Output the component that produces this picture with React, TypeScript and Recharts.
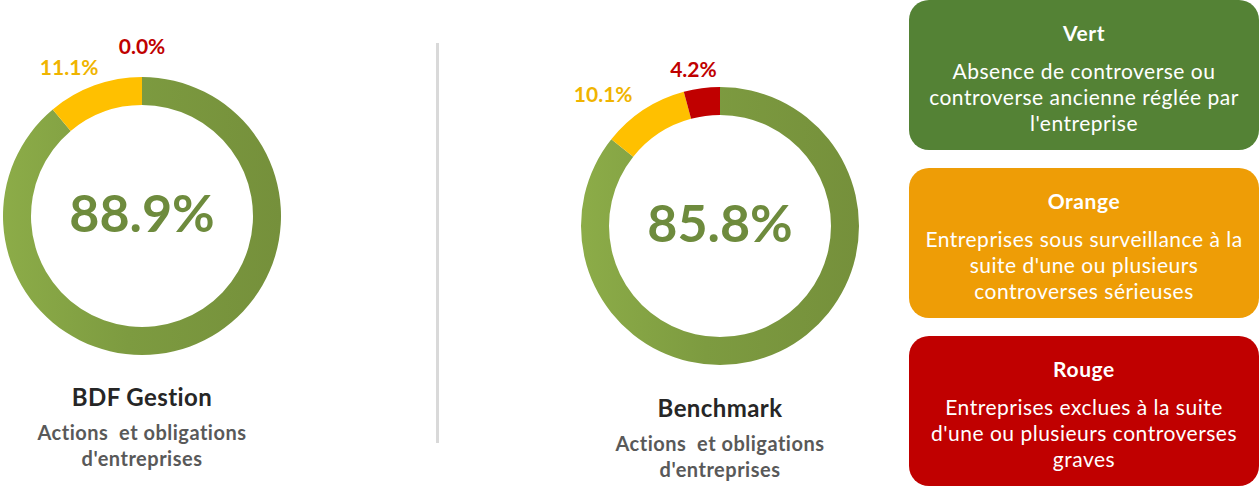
import React from "react";
import { PieChart, Pie, Cell } from "recharts";

const categories = ["Vert", "Orange", "Rouge"];
const bdfValues = [88.9, 11.1, 0.0];
const benchValues = [85.8, 10.1, 4.2];
const panelTitles = ["BDF Gestion", "Benchmark"];
const panelSubtitles = ["Actions\u00a0 et obligations", "d'entreprises"];
const legendTexts = [
  ["Absence de controverse ou", "controverse ancienne réglée par", "l'entreprise"],
  ["Entreprises sous surveillance à la", "suite d'une ou plusieurs", "controverses sérieuses"],
  ["Entreprises exclues à la suite", "d'une ou plusieurs controverses", "graves"],
];

const FONT = "Lato, 'Open Sans', sans-serif";
const sliceColors = ["url(#greenGrad)", "#FFC000", "#C00000"];
const labelColors = ["#77933C", "#F0B400", "#C00000"];
const boxColors = ["#548235", "#EE9D06", "#C00000"];

const RADIAN = Math.PI / 180;

// outside-end label, pushed sideways by roughly its own width (Excel style)
function SliceLabel(props: any) {
  const { cx, cy, midAngle, outerRadius, value, index } = props;
  if (index === 0) return null;
  const text = `${Number(value).toFixed(1)}%`;
  const cos = Math.cos(-midAngle * RADIAN);
  const sin = Math.sin(-midAngle * RADIAN);
  const r = outerRadius + 20;
  const w = text.length * 12 * 0.9;
  const x = cx + (r + w) * cos;
  const y = cy + r * sin - (value === 0 ? 12 : 0);
  return (
    <text
      x={x}
      y={y}
      textAnchor="middle"
      dominantBaseline="central"
      fill={labelColors[index]}
      style={{ fontSize: 21, fontWeight: 700, fontFamily: FONT }}
    >
      {text}
    </text>
  );
}

const toData = (vals: number[]) => categories.map((name, i) => ({ name, value: vals[i] }));

const panels = [
  { values: bdfValues, cx: 142, cy: 216, titleY: 397 },
  { values: benchValues, cx: 720, cy: 226, titleY: 408 },
];

export default function App() {
  return (
    <div
      style={{
        position: "absolute",
        left: 0,
        top: 0,
        width: 1260,
        height: 486,
        background: "#fff",
        fontFamily: FONT,
        overflow: "hidden",
      }}
    >
      <PieChart
        width={900}
        height={486}
        margin={{ top: 0, right: 0, bottom: 0, left: 0 }}
        style={{ position: "absolute", left: 0, top: 0 }}
      >
        <defs>
          <linearGradient id="greenGrad" x1="0" y1="0" x2="1" y2="0">
            <stop offset="0%" stopColor="#8CAC48" />
            <stop offset="45%" stopColor="#7D9B40" />
            <stop offset="100%" stopColor="#75903B" />
          </linearGradient>
        </defs>
        {panels.map((p, pi) => (
          <Pie
            key={pi}
            data={toData(p.values)}
            dataKey="value"
            cx={p.cx}
            cy={p.cy}
            innerRadius={111}
            outerRadius={139}
            startAngle={90}
            endAngle={-270}
            stroke="none"
            label={<SliceLabel />}
            labelLine={false}
            isAnimationActive={false}
          >
            {categories.map((c, i) => (
              <Cell key={c} fill={sliceColors[i]} />
            ))}
          </Pie>
        ))}
      </PieChart>

      {panels.map((p, pi) => (
        <React.Fragment key={pi}>
          <div
            style={{
              position: "absolute",
              left: p.cx - 120,
              width: 240,
              top: p.cy - 34,
              height: 60,
              lineHeight: "60px",
              textAlign: "center",
              fontSize: 52,
              fontWeight: 700,
              color: "#6E8B3D",
            }}
          >
            {p.values[0].toFixed(1)}%
          </div>
          <div
            style={{
              position: "absolute",
              left: p.cx - 150,
              width: 300,
              top: p.titleY - 14,
              textAlign: "center",
            }}
          >
            <div
              style={{ fontSize: 24, fontWeight: 700, color: "#262626", lineHeight: "28px", letterSpacing: 0.4 }}
            >
              {panelTitles[pi]}
            </div>
            <div
              style={{
                fontSize: 20,
                fontWeight: 700,
                color: "#595959",
                lineHeight: "26px",
                marginTop: 8,
                letterSpacing: 0.5,
              }}
            >
              {panelSubtitles.map((s) => (
                <div key={s}>{s}</div>
              ))}
            </div>
          </div>
        </React.Fragment>
      ))}

      <div
        style={{ position: "absolute", left: 436, top: 43, width: 3, height: 400, background: "#D9D9D9" }}
      />

      {categories.map((c, i) => (
        <div
          key={c}
          style={{
            position: "absolute",
            left: 909,
            top: i * 168,
            width: 350,
            height: 150,
            borderRadius: 20,
            background: boxColors[i],
            color: "#fff",
            textAlign: "center",
          }}
        >
          <div style={{ fontSize: 21, fontWeight: 700, lineHeight: "24px", marginTop: 21, letterSpacing: 0.6 }}>
            {c}
          </div>
          <div style={{ fontSize: 21, lineHeight: "26px", marginTop: 13, letterSpacing: 0.5, whiteSpace: "nowrap" }}>
            {legendTexts[i].map((t) => (
              <div key={t}>{t}</div>
            ))}
          </div>
        </div>
      ))}
    </div>
  );
}
